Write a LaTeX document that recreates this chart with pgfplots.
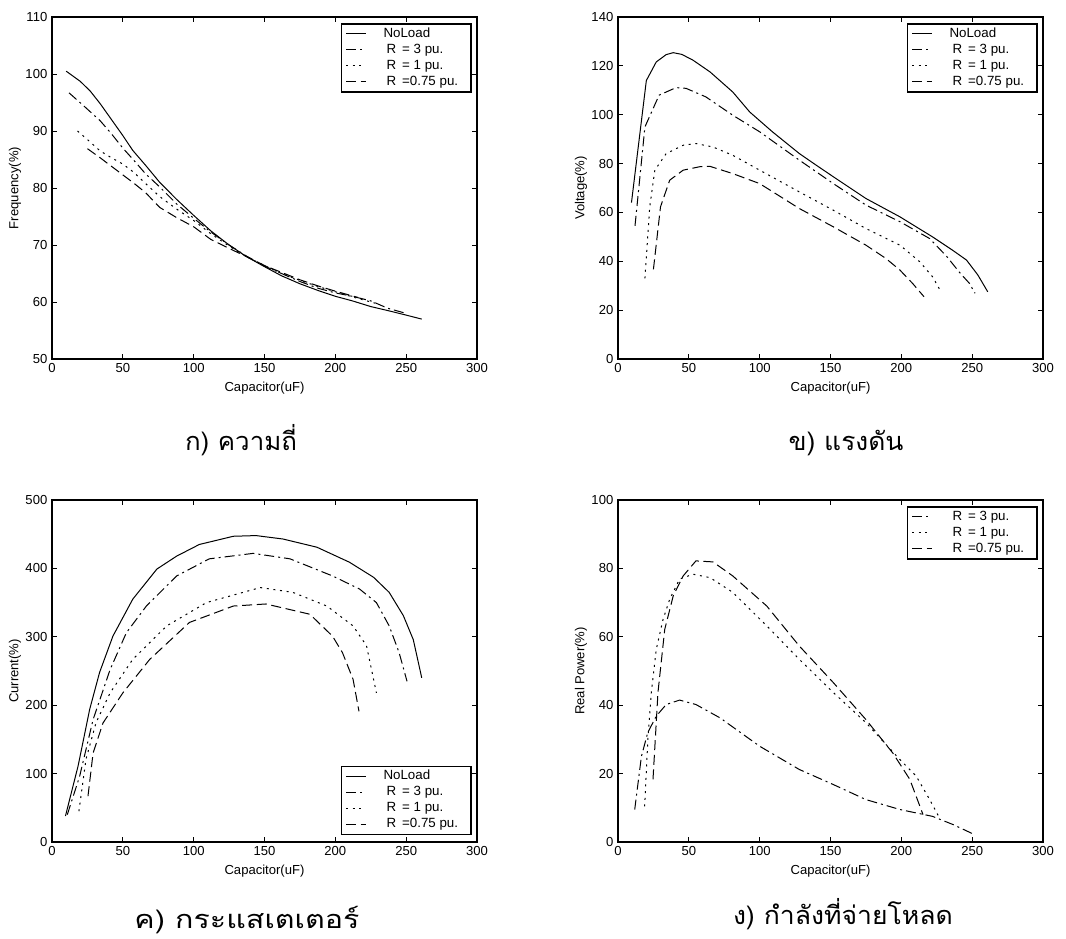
\documentclass[border=0pt]{standalone}
\usepackage{fontspec}
\setmainfont{Liberation Sans}
\newfontfamily\thaifont[Script=Thai]{Loma}
\usepackage{graphicx}
\usepackage{pgfplots}
\pgfplotsset{compat=1.18}

\pgfplotsset{
  myaxis/.style={
    scale only axis, width=318.75pt, height=256.5pt,
    xmin=0, xmax=300, xtick={0,50,...,300},
    tick align=inside, major tick length=3.5pt,
    axis line style={line width=1pt},
    every tick/.style={black, line width=0.7pt},
    tick label style={font=\fontsize{9.8}{11}\selectfont},
    /pgf/number format/assume math mode=true,
    xlabel={Capacitor(uF)},
    every axis x label/.style={at={(axis description cs:0.5,0)}, anchor=center, yshift=-21.75pt, font=\fontsize{9.8}{11}\selectfont},
    every axis y label/.style={at={(axis description cs:-0.087,0.5)}, anchor=center, rotate=90, font=\fontsize{9.8}{11}\selectfont},
    legend style={draw=black, line width=1.3pt, font=\fontsize{10}{11}\selectfont,
      inner xsep=3pt, inner ysep=1.5pt, row sep=0pt,
      nodes={inner xsep=0pt, inner ysep=1.5pt, text height=7pt, text depth=2pt}},
    legend cell align=left,
    legend image code/.code={\draw[#1, line width=0.75pt] (0pt,0pt) -- (15pt,0pt); \path (27.75pt,0pt);},
    every axis plot/.append style={black, line width=0.75pt},
  },
  noload/.style={solid},
  rthree/.style={dash pattern=on 7.5pt off 3pt on 1.5pt off 3pt},
  rone/.style={dash pattern=on 1.5pt off 3.5pt},
  rsev/.style={dash pattern=on 7.5pt off 3.5pt},
}
\newcommand{\Rent}[1]{\hspace*{2.25pt}R\hspace*{4.5pt}#1\hspace*{6.5pt}}

\begin{document}
\begin{tikzpicture}
\path[use as bounding box] (0pt,0pt) rectangle (799.5pt,-703.5pt);

% ---------- Frequency ----------
\begin{axis}[myaxis, at={(39pt,-269.25pt)}, anchor=south west,
  ymin=50, ymax=110, ytick={50,60,...,110},
  ylabel={Frequency(\%)},
  legend style={at={(rel axis cs:1,1)}, anchor=north east, xshift=-4pt, yshift=-4.5pt}]
\addplot[noload] coordinates {(10,100.5)(20,98.7)(27,97)(34,94.8)(42,92)(50,89.2)(57,86.6)(66,84)(76,81)(88,78)(100,75.2)(112,72.5)(125,70)(137,68)(150,66.2)(162,64.6)(175,63.2)(188,62)(200,61)(212,60.2)(225,59.2)(237,58.5)(250,57.7)(261,57)};
\addplot[rthree] coordinates {(12,96.7)(22,94.5)(34,91.8)(42,89.5)(50,87)(58,84.8)(66,82.5)(76,80.2)(88,77.2)(100,74.7)(112,72.3)(125,70)(137,68.1)(150,66.3)(162,65)(175,63.6)(188,62.4)(200,61.6)(212,61)(225,60.2)(237,58.9)(250,58)};
\addplot[rone] coordinates {(18,90)(25,88.5)(34,86.5)(42,85.3)(50,84.2)(58,82.7)(66,80.8)(76,78.5)(88,76.3)(100,74.3)(112,72)(125,69.8)(137,68)(150,66.4)(162,65)(175,63.8)(188,62.7)(200,61.8)(212,60.9)(228,59.8)};
\addplot[rsev] coordinates {(25,86.9)(34,85.3)(42,83.8)(50,82.3)(58,80.8)(66,79.2)(76,76.6)(88,74.8)(100,73.2)(112,71)(125,69.4)(137,68)(150,66.4)(162,65.2)(175,63.9)(188,62.8)(200,61.9)(216,60.8)};
\legend{NoLoad,\Rent{= 3 pu.},\Rent{= 1 pu.},\Rent{=0.75 pu.}}
\end{axis}

% ---------- Voltage ----------
\begin{axis}[myaxis, at={(463.5pt,-269.25pt)}, anchor=south west,
  ymin=0, ymax=140, ytick={0,20,...,140},
  ylabel={Voltage(\%)},
  legend style={at={(rel axis cs:1,1)}, anchor=north east, xshift=-4pt, yshift=-4.5pt}]
\addplot[noload] coordinates {(9.5,64)(20,114)(27,121.6)(34,124.6)(39,125.4)(45,124.7)(53,122.3)(65,117.5)(81,109.3)(93,101.1)(109,93)(128,84.1)(140,79.3)(152,74.6)(175,65.7)(199,58.2)(222,50)(236,44.6)(246,40.5)(254,34.4)(261,27.5)};
\addplot[rthree] coordinates {(12,54.5)(19,95)(29,108)(41,111.1)(48,110.8)(62,107.3)(81,99.8)(100,93)(128,81.4)(152,71.8)(175,63)(199,56.2)(220,49.3)(232,42)(241,35.5)(248,31)(252,26.9)};
\addplot[rone] coordinates {(19,33)(22.4,62.3)(26,77.3)(34,84.1)(46,87.5)(55,88.2)(67,86.8)(81,83.4)(100,77.3)(128,68.4)(152,60.9)(175,53.4)(199,46.6)(213,39.8)(222,33.7)(228,27.5)};
\addplot[rsev] coordinates {(25,36.7)(30,62.3)(36.5,73.2)(46,77.3)(57.6,78.7)(64.7,78.9)(81,75.9)(100,71.8)(128,61.6)(152,54.1)(175,46.6)(189,41.2)(199,36.4)(208,30.9)(216,25.5)};
\legend{NoLoad,\Rent{= 3 pu.},\Rent{= 1 pu.},\Rent{=0.75 pu.}}
\end{axis}

% ---------- Current ----------
\begin{axis}[myaxis, at={(39pt,-631.5pt)}, anchor=south west,
  ymin=0, ymax=500, ytick={0,100,...,500},
  ylabel={Current(\%)},
  legend style={at={(rel axis cs:1,0)}, anchor=south east, xshift=-4pt, yshift=5pt}]
\addplot[noload] coordinates {(9.5,38)(18.4,111)(26.6,194)(33.6,248)(43,301)(57,355)(74,399)(88,418)(104,435)(128,447)(144,448)(163,443)(187,431)(210,409)(227,387)(238,365)(248,331)(255,296)(261,240)};
\addplot[rthree] coordinates {(10.8,40)(19.5,96)(29,179)(41,252)(52.5,306)(66.6,345)(88,389)(111,414)(142,422)(168,414)(198,389)(217,370)(229,350)(238,316)(245,277)(250.6,235)};
\addplot[rone] coordinates {(19,45)(24,121)(31,174)(41,218)(57,267)(81,316)(109,350)(147,372)(170,365)(194,345)(212.5,316)(222,287)(229,218)};
\addplot[rsev] coordinates {(25.4,67)(29,130)(36,174)(50,218)(69,267)(97,321)(128,345)(151,348)(182,333)(198,301)(205,277)(212.5,238)(216.7,191)};
\legend{NoLoad,\Rent{= 3 pu.},\Rent{= 1 pu.},\Rent{=0.75 pu.}}
\end{axis}

% ---------- Real power ----------
\begin{axis}[myaxis, at={(463.5pt,-631.5pt)}, anchor=south west,
  ymin=0, ymax=100, ytick={0,20,...,100},
  ylabel={Real Power(\%)},
  legend style={at={(rel axis cs:1,1)}, anchor=north east, xshift=-4pt, yshift=-4.5pt}]
\addplot[rthree] coordinates {(11.8,9.5)(16.5,25)(21,32)(27,36.8)(34,40.2)(43.5,41.5)(55,40.2)(72,36.3)(100,28)(128,21.2)(152,16.8)(175,12.4)(199,9.5)(222,7.5)(236.5,5.1)(252,2.1)};
\addplot[rone] coordinates {(18.8,10.4)(21.2,31)(23.5,43.7)(27,56.3)(31.8,65.1)(36.5,71)(43.5,76.9)(53,78.3)(65,77.3)(81,73)(105,63.2)(128,53.4)(152,43.7)(175,34.9)(199,24.1)(210.6,19.2)(220,12.4)(227,7)};
\addplot[rsev] coordinates {(24.7,18.3)(28.2,43.7)(33,62.2)(39,72)(46,77.8)(55,82.2)(67,81.9)(81,77.8)(105,69)(128,57.3)(152,46.6)(175,35.8)(194,26)(206,18.3)(215.3,8)};
\legend{\Rent{= 3 pu.},\Rent{= 1 pu.},\Rent{=0.75 pu.}}
\end{axis}

% ---------- captions ----------
\node[anchor=base, inner sep=0pt] at (180.75pt,-337.5pt) {\resizebox{84pt}{\height}{\thaifont\fontsize{19}{22}\selectfont ก) ความถี่}};
\node[anchor=base, inner sep=0pt] at (634.5pt,-337.5pt) {\resizebox{86.25pt}{\height}{\thaifont\fontsize{19}{22}\selectfont ข) แรงดัน}};
\node[anchor=base, inner sep=0pt] at (185.25pt,-696pt) {\resizebox{168.75pt}{\height}{\thaifont\fontsize{19}{22}\selectfont ค) กระแสเตเตอร์}};
\node[anchor=base, inner sep=0pt] at (632.25pt,-693pt) {\resizebox{165pt}{\height}{\thaifont\fontsize{19}{22}\selectfont ง) กำลังที่จ่ายโหลด}};
\end{tikzpicture}
\end{document}
